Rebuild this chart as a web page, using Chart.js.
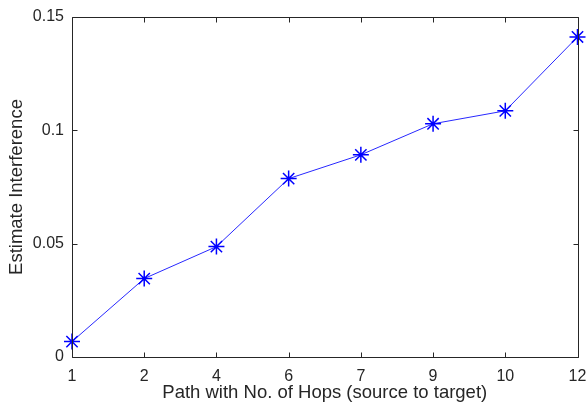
<!DOCTYPE html>
<html>
<head>
<meta charset="utf-8">
<script src="https://cdn.jsdelivr.net/npm/chart.js@4"></script>
<style>
  html, body { margin: 0; padding: 0; background: #fff; }
  #wrap { width: 587px; height: 412px; }
</style>
</head>
<body>
<div id="wrap"><canvas id="chart" width="587" height="412"></canvas></div>
<script>
// data
const hops = ["1", "2", "4", "6", "7", "9", "10", "12"];
const interference = [0.0068, 0.0346, 0.0487, 0.0787, 0.0892, 0.1029, 0.1086, 0.1412];

const AXIS_COLOR = "#262626";
const FONT = "'Liberation Sans', Arial, sans-serif";

// MATLAB-like box with inward ticks on all four sides
// (box edges taken from the scales so first/last category sit on it)
const boxPlugin = {
  id: "box",
  afterDraw(chart) {
    const ctx = chart.ctx;
    const xs = chart.scales.x;
    const ys = chart.scales.y;
    const left = Math.round(xs.getPixelForTick(0)) + 0.5;
    const right = Math.round(xs.getPixelForTick(xs.ticks.length - 1)) + 0.5;
    const top = Math.round(ys.top) + 0.5;
    const bottom = Math.round(ys.bottom) + 0.5;
    const len = 5;
    ctx.save();
    ctx.strokeStyle = AXIS_COLOR;
    ctx.lineWidth = 1;
    ctx.beginPath();
    ctx.rect(left, top, right - left, bottom - top);
    xs.ticks.forEach((t, i) => {
      const px = Math.round(xs.getPixelForTick(i)) + 0.5;
      ctx.moveTo(px, bottom);
      ctx.lineTo(px, bottom - len);
      ctx.moveTo(px, top);
      ctx.lineTo(px, top + len);
    });
    ys.ticks.forEach((t, i) => {
      const py = Math.round(ys.getPixelForTick(i)) + 0.5;
      ctx.moveTo(left, py);
      ctx.lineTo(left + len, py);
      ctx.moveTo(right, py);
      ctx.lineTo(right - len, py);
    });
    ctx.stroke();
    ctx.restore();
  }
};

new Chart(document.getElementById("chart"), {
  type: "line",
  data: {
    labels: hops,
    datasets: [{
      data: interference,
      borderColor: "rgb(40,40,255)",
      borderWidth: 1,
      pointStyle: "star",
      pointRadius: 8,
      pointBorderColor: "rgb(0,0,255)",
      pointBorderWidth: 1.5,
      pointBackgroundColor: "rgb(0,0,255)",
      tension: 0,
      clip: false
    }]
  },
  options: {
    responsive: false,
    animation: false,
    layout: { padding: { left: 0, right: 9, top: 17, bottom: 0 } },
    plugins: { legend: { display: false }, tooltip: { enabled: false } },
    scales: {
      x: {
        offset: false,
        grid: { display: false, drawTicks: false },
        border: { display: false },
        ticks: { color: AXIS_COLOR, font: { family: FONT, size: 16 }, padding: 10, maxRotation: 0 },
        title: {
          display: true,
          text: "Path with No. of Hops (source to target)",
          color: AXIS_COLOR,
          font: { family: FONT, size: 18.5 },
          padding: { top: 0, bottom: 8 }
        },
        afterFit(scale) {
          scale.height = 55;
          scale.paddingLeft = 0;
          scale.paddingRight = 0;
        }
      },
      y: {
        min: 0,
        max: 0.15,
        grid: { display: false, drawTicks: false },
        border: { display: false },
        ticks: {
          stepSize: 0.05,
          color: AXIS_COLOR,
          font: { family: FONT, size: 16 },
          padding: 8,
          callback: v => String(Number(v.toFixed(2)))
        },
        title: {
          display: true,
          text: "Estimate Interference",
          color: AXIS_COLOR,
          font: { family: FONT, size: 18.5 },
          padding: { top: 6, bottom: 0 }
        },
        afterFit(scale) {
          scale.width = 72;
          scale.paddingTop = 0;
          scale.paddingBottom = 0;
        }
      }
    }
  },
  plugins: [boxPlugin]
});
</script>
</body>
</html>
